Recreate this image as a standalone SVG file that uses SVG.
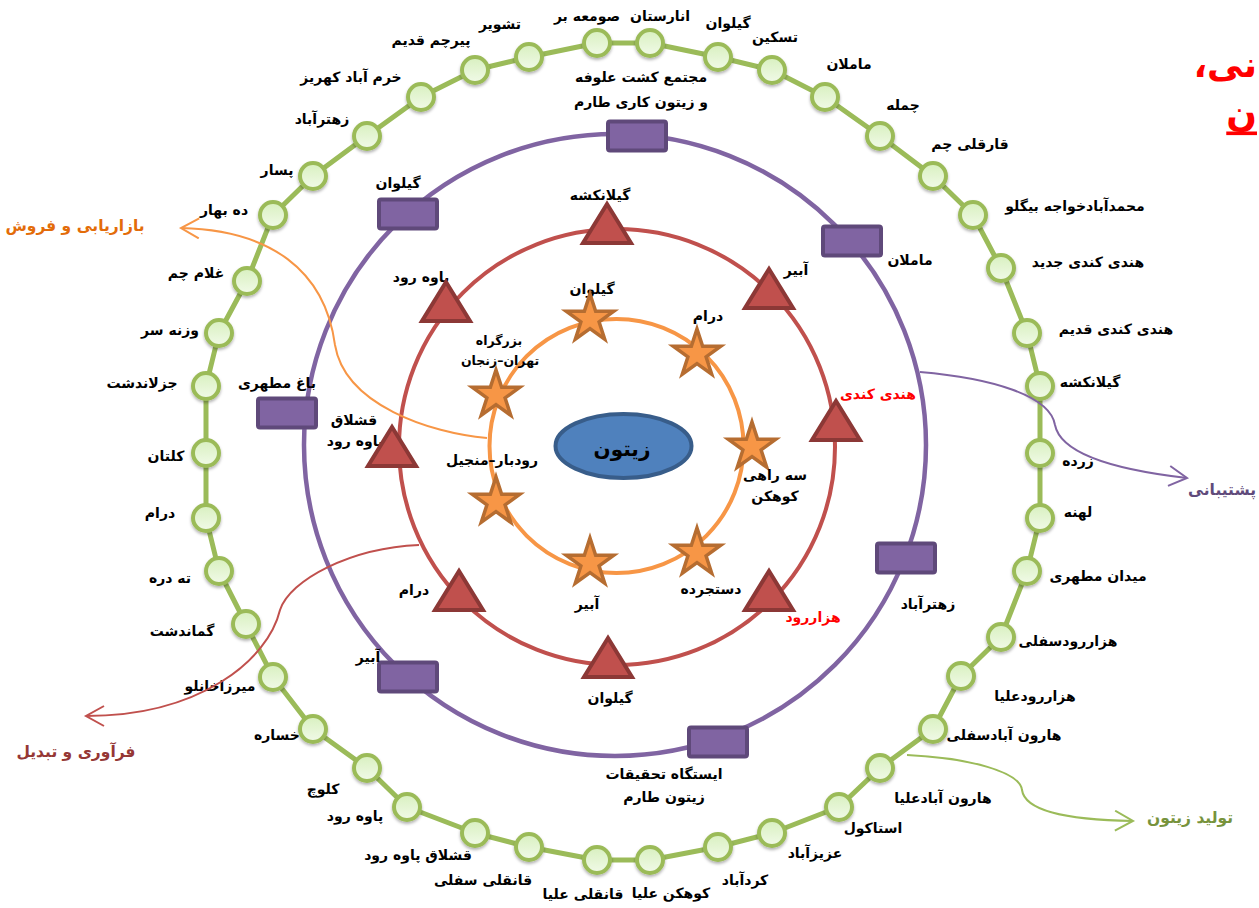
<svg xmlns="http://www.w3.org/2000/svg" width="1259" height="908" viewBox="0 0 1259 908">
<style>
text{font-family:"DejaVu Sans","Noto Sans",sans-serif;font-weight:bold;text-anchor:middle;dominant-baseline:central;fill:#000}
.lbl{font-size:14px}
.sm{font-size:12.5px}
.red{fill:#FF0000}
.ring{fill:none}
.node{fill:url(#ng);stroke:#9BBB59;stroke-width:4;filter:url(#sh)}
.box{fill:#8064A2;stroke:#5F497A;stroke-width:4}
.tri{fill:#C0504D;stroke:#8C3836;stroke-width:4;stroke-linejoin:miter}
.star{fill:#F79646;stroke:#B66D31;stroke-width:3.5;stroke-linejoin:miter}
.con{fill:none;stroke-width:2}
.cl{font-size:15.5px}
.title{font-size:36px;fill:#FF0000;direction:rtl;text-anchor:start}
</style>
<defs>
<linearGradient id="ng" x1="0" y1="0" x2="0" y2="1">
<stop offset="0" stop-color="#D8F0BF"/>
<stop offset="1" stop-color="#F1FAE8"/>
</linearGradient>
<filter id="sh" x="-50%" y="-50%" width="200%" height="200%">
<feDropShadow dx="0" dy="2" stdDeviation="1.5" flood-color="#000" flood-opacity="0.3"/>
</filter>
<path id="tri" class="tri" d="M0,-20 L24,19 L-24,19 Z"/>
<path id="star" class="star" d="M0,-25 L5.64,-7.75 L23.78,-7.73 L9.11,2.96 L14.7,20.23 L0,9.58 L-14.7,20.23 L-9.11,2.96 L-23.78,-7.73 L-5.64,-7.75 Z"/>
<rect id="box" class="box" x="-29" y="-14.5" width="58" height="29" rx="2"/>
<circle id="nd" class="node" r="13"/>
<marker id="aO" markerUnits="userSpaceOnUse" markerWidth="24" markerHeight="24" refX="19" refY="11" orient="auto"><path d="M1,1 L19,11 L1,21" fill="none" stroke="#F79646" stroke-width="2"/></marker>
<marker id="aP" markerUnits="userSpaceOnUse" markerWidth="24" markerHeight="24" refX="19" refY="11" orient="auto"><path d="M1,1 L19,11 L1,21" fill="none" stroke="#8064A2" stroke-width="2"/></marker>
<marker id="aR" markerUnits="userSpaceOnUse" markerWidth="24" markerHeight="24" refX="19" refY="11" orient="auto"><path d="M1,1 L19,11 L1,21" fill="none" stroke="#C0504D" stroke-width="2"/></marker>
<marker id="aG" markerUnits="userSpaceOnUse" markerWidth="24" markerHeight="24" refX="19" refY="11" orient="auto"><path d="M1,1 L19,11 L1,21" fill="none" stroke="#9BBB59" stroke-width="2"/></marker>
</defs>

<!-- rings -->
<g id="rings">
<path class="ring" stroke="#9BBB59" stroke-width="5" stroke-linejoin="round" d="M597,43 L650,43 L718,57 L772,70 L825,97 L880,136 L933,176 L973,215 L1001,268 L1027,333 L1040,386 L1040,453 L1040,518 L1027,571 L1001,637 L961,676 L933,729 L880,768 L839,807 L772,833 L718,847 L650,860 L597,860 L529,847 L475,833 L407,807 L367,768 L313,729 L273,677 L246,624 L219,571 L206,518 L206,453 L206,386 L219,333 L247,281 L273,215 L313,176 L367,136 L421,97 L475,70 L529,57 Z"/>
<circle class="ring" cx="615" cy="445" r="311" stroke="#8064A2" stroke-width="4.5"/>
<circle class="ring" cx="617" cy="447" r="218" stroke="#C0504D" stroke-width="4"/>
<circle class="ring" cx="616.5" cy="446" r="127" stroke="#F79646" stroke-width="4"/>
</g>

<!-- outer green nodes -->
<g id="n01"><use href="#nd" x="597" y="43"/><text class="lbl" x="587" y="16">صومعه بر</text></g>
<g id="n02"><use href="#nd" x="650" y="43"/><text class="lbl" x="660" y="16">انارستان</text></g>
<g id="n03"><use href="#nd" x="718" y="57"/><text class="lbl" x="728" y="23">گیلوان</text></g>
<g id="n04"><use href="#nd" x="772" y="70"/><text class="lbl" x="775" y="37">تسکین</text></g>
<g id="n05"><use href="#nd" x="825" y="97"/><text class="lbl" x="849" y="64">ماملان</text></g>
<g id="n06"><use href="#nd" x="880" y="136"/><text class="lbl" x="903" y="105">چمله</text></g>
<g id="n07"><use href="#nd" x="933" y="176"/><text class="lbl" x="970" y="144">قارقلی چم</text></g>
<g id="n08"><use href="#nd" x="973" y="215"/><text class="lbl" x="1075" y="206">محمدآبادخواجه بیگلو</text></g>
<g id="n09"><use href="#nd" x="1001" y="268"/><text class="lbl" x="1088" y="262">هندی کندی جدید</text></g>
<g id="n10"><use href="#nd" x="1027" y="333"/><text class="lbl" x="1116" y="329">هندی کندی قدیم</text></g>
<g id="n11"><use href="#nd" x="1040" y="386"/><text class="lbl" x="1090" y="382">گیلانکشه</text></g>
<g id="n12"><use href="#nd" x="1040" y="453"/><text class="lbl" x="1078" y="461">زرده</text></g>
<g id="n13"><use href="#nd" x="1040" y="518"/><text class="lbl" x="1078" y="512">لهنه</text></g>
<g id="n14"><use href="#nd" x="1027" y="571"/><text class="lbl" x="1098" y="576">میدان مطهری</text></g>
<g id="n15"><use href="#nd" x="1001" y="637"/><text class="lbl" x="1068" y="641">هزاررودسفلی</text></g>
<g id="n16"><use href="#nd" x="961" y="676"/><text class="lbl" x="1035" y="696">هزاررودعلیا</text></g>
<g id="n17"><use href="#nd" x="933" y="729"/><text class="lbl" x="1004" y="735">هارون آبادسفلی</text></g>
<g id="n18"><use href="#nd" x="880" y="768"/><text class="lbl" x="943" y="798">هارون آبادعلیا</text></g>
<g id="n19"><use href="#nd" x="839" y="807"/><text class="lbl" x="873" y="828">استاکول</text></g>
<g id="n20"><use href="#nd" x="772" y="833"/><text class="lbl" x="815" y="853">عزیزآباد</text></g>
<g id="n21"><use href="#nd" x="718" y="847"/><text class="lbl" x="745" y="880">کردآباد</text></g>
<g id="n22"><use href="#nd" x="650" y="860"/><text class="lbl" x="671" y="893">کوهکن علیا</text></g>
<g id="n23"><use href="#nd" x="597" y="860"/><text class="lbl" x="583" y="894">قانقلی علیا</text></g>
<g id="n24"><use href="#nd" x="529" y="847"/><text class="lbl" x="483" y="880">قانقلی سفلی</text></g>
<g id="n25"><use href="#nd" x="475" y="833"/><text class="lbl" x="418" y="855">قشلاق پاوه رود</text></g>
<g id="n26"><use href="#nd" x="407" y="807"/><text class="lbl" x="355" y="816">پاوه رود</text></g>
<g id="n27"><use href="#nd" x="367" y="768"/><text class="lbl" x="323" y="789">کلوچ</text></g>
<g id="n28"><use href="#nd" x="313" y="729"/><text class="lbl" x="277" y="735">خساره</text></g>
<g id="n29"><use href="#nd" x="273" y="677"/><text class="lbl" x="220" y="686">میرزاخانلو</text></g>
<g id="n30"><use href="#nd" x="246" y="624"/><text class="lbl" x="182" y="631">گماندشت</text></g>
<g id="n31"><use href="#nd" x="219" y="571"/><text class="lbl" x="170" y="578">ته دره</text></g>
<g id="n32"><use href="#nd" x="206" y="518"/><text class="lbl" x="160" y="513">درام</text></g>
<g id="n33"><use href="#nd" x="206" y="453"/><text class="lbl" x="166" y="456">کلتان</text></g>
<g id="n34"><use href="#nd" x="206" y="386"/><text class="lbl" x="142" y="383">جزلاندشت</text></g>
<g id="n35"><use href="#nd" x="219" y="333"/><text class="lbl" x="170" y="330">وزنه سر</text></g>
<g id="n36"><use href="#nd" x="247" y="281"/><text class="lbl" x="196" y="273">غلام چم</text></g>
<g id="n37"><use href="#nd" x="273" y="215"/><text class="lbl" x="224" y="210">ده بهار</text></g>
<g id="n38"><use href="#nd" x="313" y="176"/><text class="lbl" x="277" y="170">پسار</text></g>
<g id="n39"><use href="#nd" x="367" y="136"/><text class="lbl" x="322" y="119">زهترآباد</text></g>
<g id="n40"><use href="#nd" x="421" y="97"/><text class="lbl" x="351" y="77">خرم آباد کهریز</text></g>
<g id="n41"><use href="#nd" x="475" y="70"/><text class="lbl" x="431" y="40">پیرچم قدیم</text></g>
<g id="n42"><use href="#nd" x="529" y="57"/><text class="lbl" x="500" y="24">تشویر</text></g>

<!-- purple boxes -->
<g id="b1"><use href="#box" x="637" y="136"/><text class="lbl" x="641" y="77">مجتمع کشت علوفه</text><text class="lbl" x="641" y="102">و زیتون کاری طارم</text></g>
<g id="b2"><use href="#box" x="408" y="214"/><text class="lbl" x="398" y="183">گیلوان</text></g>
<g id="b3"><use href="#box" x="852" y="241"/><text class="lbl" x="910" y="260">ماملان</text></g>
<g id="b4"><use href="#box" x="287" y="413"/><text class="lbl" x="277" y="383">باغ مطهری</text></g>
<g id="b5"><use href="#box" x="906" y="558"/><text class="lbl" x="928" y="604">زهترآباد</text></g>
<g id="b6"><use href="#box" x="408" y="677"/><text class="lbl" x="368" y="657">آبیر</text></g>
<g id="b7"><use href="#box" x="718" y="742"/><text class="lbl" x="664" y="774">ایستگاه تحقیقات</text><text class="lbl" x="664" y="797">زیتون طارم</text></g>

<!-- red triangles -->
<g id="t1"><text class="lbl" x="600" y="195">گیلانکشه</text><use href="#tri" x="607" y="224"/></g>
<g id="t2"><text class="lbl" x="796" y="270">آبیر</text><use href="#tri" x="769" y="289"/></g>
<g id="t3"><text class="lbl" x="421" y="277">پاوه رود</text><use href="#tri" x="446" y="302"/></g>
<g id="t4"><text class="lbl" x="354" y="420">قشلاق</text><text class="lbl" x="355" y="441">پاوه رود</text><use href="#tri" x="392" y="447"/></g>
<g id="t5"><use href="#tri" x="836" y="421"/><text class="lbl red" x="878" y="394">هندی کندی</text></g>
<g id="t6"><text class="lbl" x="414" y="590">درام</text><use href="#tri" x="459" y="591"/></g>
<g id="t7"><use href="#tri" x="769" y="591"/><text class="lbl red" x="813" y="617">هزاررود</text></g>
<g id="t8"><use href="#tri" x="608" y="658"/><text class="lbl" x="610" y="698">گیلوان</text></g>

<!-- orange stars -->
<g id="s1"><text class="lbl" x="592" y="289">گیلوان</text><use href="#star" x="590" y="319"/></g>
<g id="s2"><text class="lbl" x="708" y="316">درام</text><use href="#star" x="697" y="354"/></g>
<g id="s3"><text class="sm" x="499" y="340">بزرگراه</text><text class="sm" x="500" y="360">تهران–زنجان</text><use href="#star" x="496" y="395"/></g>
<g id="s4"><use href="#star" x="752" y="447"/><text class="lbl" x="775" y="475">سه راهی</text><text class="lbl" x="775" y="496">کوهکن</text></g>
<g id="s5"><text class="lbl" x="492" y="460">رودبار–منجیل</text><use href="#star" x="496" y="502"/></g>
<g id="s6"><use href="#star" x="697" y="553"/><text class="lbl" x="711" y="589">دستجرده</text></g>
<g id="s7"><use href="#star" x="590" y="563"/><text class="lbl" x="587" y="604">آبیر</text></g>

<!-- center -->
<g id="center"><ellipse cx="623.5" cy="446" rx="68" ry="32" fill="#4F81BD" stroke="#385D8A" stroke-width="4"/><text x="622" y="449" style="font-size:20px">زیتون</text></g>

<!-- connectors -->
<g id="connectors">
<path class="con" stroke="#F79646" marker-end="url(#aO)" d="M487,438 C430,433 345,405 335,345 C325,270 270,230 181,228"/>
<path class="con" stroke="#8064A2" marker-end="url(#aP)" d="M920,372 C990,378 1050,395 1055,425 C1060,450 1100,468 1187,478"/>
<path class="con" stroke="#C0504D" marker-end="url(#aR)" d="M419,545 C350,548 290,580 280,610 C268,660 200,716 86,716"/>
<path class="con" stroke="#9BBB59" marker-end="url(#aG)" d="M907,755 C970,758 1020,772 1022,790 C1025,812 1070,820 1133,821"/>
</g>

<!-- connector labels -->
<g id="labels">
<text class="cl" x="75" y="226" style="fill:#E36C09">بازاریابی و فروش</text>
<text class="cl" x="76" y="752" style="fill:#953735">فرآوری و تبدیل</text>
<text class="cl" x="1190" y="818" style="fill:#77933C">تولید زیتون</text>
<text class="cl" x="1256" y="490" style="fill:#604A7B;text-anchor:end">پشتیبانی</text>
</g>

<!-- title (at right edge) -->
<g id="title">
<text class="title" x="1257" y="64">نی،</text>
<text class="title" x="1257" y="113" style="text-decoration:underline">ن</text>
</g>
</svg>
